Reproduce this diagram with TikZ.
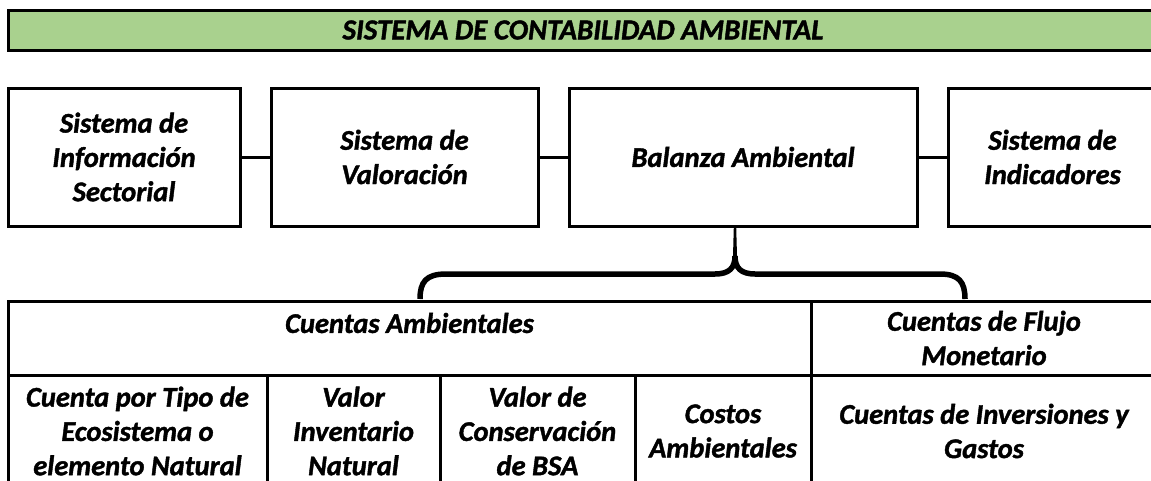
\documentclass[tikz,border=0pt]{standalone}
\usepackage{fontspec}
\setmainfont{Carlito}[BoldItalicFeatures={FakeBold=1.4}]
\definecolor{bargreen}{HTML}{A9D18E}
\begin{document}
\begin{tikzpicture}[x=1pt,y=-1pt,
  box/.style={draw=black,line width=3pt,inner sep=0pt,anchor=center,
    font=\fontsize{28.5}{34.3}\selectfont\bfseries\itshape,align=center},
  lbl/.style={font=\fontsize{28.5}{34.3}\selectfont\bfseries\itshape,align=center,inner sep=0pt},
  link/.style={line width=3pt},
  bracestroke/.style={line width=5.5pt,line cap=butt}
]
\clip (0,0) rectangle (1151,480);
% title bar
\node[box,fill=bargreen,minimum width=1150pt,minimum height=40pt,font=\fontsize{29}{34}\selectfont\bfseries\itshape] (title) at (583,30) {SISTEMA DE CONTABILIDAD AMBIENTAL};
% top boxes
\node[box,minimum width=232pt,minimum height=138pt] (b1) at (124,157) {Sistema de\\Información\\Sectorial};
\node[box,minimum width=267pt,minimum height=138pt] (b2) at (404.5,157) {Sistema de\\Valoración};
\node[box,minimum width=348pt,minimum height=138pt] (b3) at (743,157) {Balanza Ambiental};
\node[box,minimum width=209pt,minimum height=138pt] (b4) at (1052.5,157) {Sistema de\\Indicadores};
\draw[link] (b1.east) -- (b2.west);
\draw[link] (b2.east) -- (b3.west);
\draw[link] (b3.east) -- (b4.west);
% table cells
\node[box,minimum width=803pt,minimum height=74pt] (ca) at (409.5,338) {};
\node[box,minimum width=346pt,minimum height=74pt] (cf) at (984,338) {Cuentas de Flujo\\Monetario};
\node[box,minimum width=259pt,minimum height=130pt] (c1) at (137.5,440) {};
\node[box,minimum width=173pt,minimum height=130pt] (c2) at (353.5,440) {};
\node[box,minimum width=195pt,minimum height=130pt] (c3) at (537.5,440) {};
\node[box,minimum width=176pt,minimum height=130pt] (c4) at (723,440) {};
\node[box,minimum width=346pt,minimum height=130pt] (c5) at (984,440) {};
\node[lbl] (cat) at (409.5,323) {Cuentas Ambientales};
\node[lbl] (c1t) at (137.5,431) {Cuenta por Tipo de\\Ecosistema o\\elemento Natural};
\node[lbl] (c2t) at (353.5,431) {Valor\\Inventario\\Natural};
\node[lbl] (c3t) at (537.5,431) {Valor de\\Conservación\\de BSA};
\node[lbl] (c4t) at (723,431) {Costos\\Ambientales};
\node[lbl] (c5t) at (984,431) {Cuentas de Inversiones y\\Gastos};
% brace
\coordinate (bt) at (735,226);
\coordinate (bl) at (420,299);
\coordinate (br) at (965,299);
\draw[bracestroke] (bl) .. controls (420,282) and (426,274) .. (446,274)
  -- (715,274) .. controls (729,274) and (735,268) .. (735,256);
\draw[bracestroke] (br) .. controls (965,282) and (959,274) .. (940,274)
  -- (755,274) .. controls (741,274) and (735,268) .. (735,256);
\fill (733,256) -- (737,256) -- (736.2,227) -- (733.8,227) -- cycle;
\fill (732.3,256) rectangle (737.7,262);
\end{tikzpicture}
\end{document}
